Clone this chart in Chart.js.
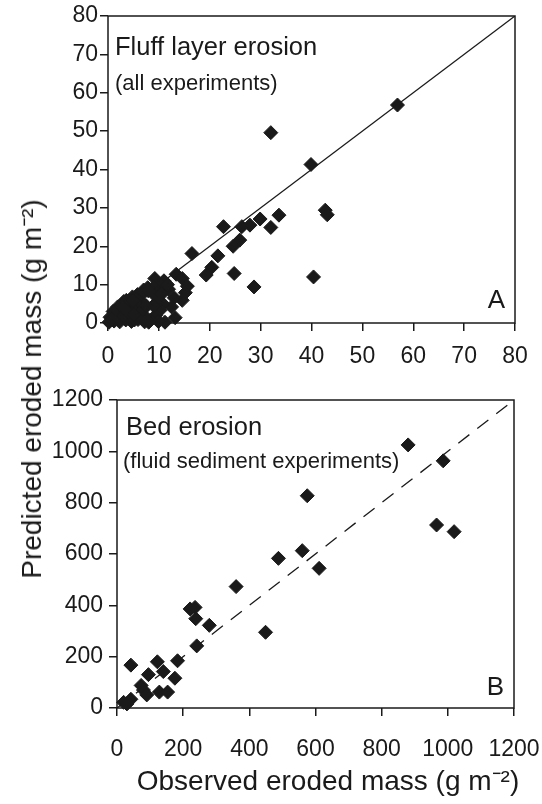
<!DOCTYPE html>
<html>
<head>
<meta charset="utf-8">
<script src="https://cdn.jsdelivr.net/npm/chart.js@4.4.1/dist/chart.umd.min.js"></script>
<style>
  body { margin: 0; background: #fff; width: 542px; height: 804px; position: relative; overflow: hidden; }
  #fluffChart { position: absolute; left: 0; top: 0; }
  #bedChart { position: absolute; left: 0; top: 380px; }
  .axis-title {
    position: absolute; white-space: nowrap; color: #1a1a1a;
    font: 28px "Liberation Sans", Arial, sans-serif;
  }
  #yTitle { left: 30px; top: 389px; transform: translate(-50%, -50%) rotate(-90deg); }
  #xTitle { left: 328px; top: 779px; transform: translate(-50%, -50%); }
</style>
</head>
<body>
<canvas id="fluffChart" width="542" height="375"></canvas>
<canvas id="bedChart" width="542" height="424"></canvas>
<div id="yTitle" class="axis-title">Predicted eroded mass (g m⁻²)</div>
<div id="xTitle" class="axis-title">Observed eroded mass (g m⁻²)</div>
<script>
// Fluff layer erosion, all experiments (g m-2)
var fluffObserved = [
  56.9, 32.0, 39.9, 42.7, 43.1, 33.6, 29.9, 32.0, 27.9, 26.3, 22.7, 25.9, 24.6, 21.6, 16.5, 20.4, 19.3, 24.8, 28.7, 40.4,
  13.4, 14.6, 15.6, 15.2, 14.6, 13.0, 12.5, 13.2, 11.2, 9.2, 11.0, 11.9, 10.4, 9.0, 9.6, 10.8, 9.5, 10.3, 9.4, 9.9,
  9.0, 8.9, 8.4, 7.8, 7.0, 7.3, 7.2, 6.8, 6.6, 6.4, 6.1, 5.9, 5.8, 5.6, 5.4, 5.0, 4.8, 4.6, 4.8, 4.3,
  4.1, 3.8, 3.6, 3.5, 3.6, 3.1, 2.8, 2.6, 2.4, 2.3, 1.9, 1.5, 1.4, 1.2, 1.0, 0.4, 0.2,
  0.8, 2.0, 3.0, 4.2, 5.2, 6.7, 8.0, 5.1, 6.9, 7.5, 3.0, 4.9, 7.9, 10.5, 11.7
];
var fluffPredicted = [
  56.8, 49.6, 41.3, 29.4, 28.2, 28.1, 27.1, 24.9, 25.5, 25.1, 25.1, 21.6, 20.0, 17.5, 18.1, 14.5, 12.5, 12.9, 9.4, 12.0,
  12.7, 11.6, 9.6, 7.9, 5.9, 6.6, 4.2, 1.4, 0.2, 11.6, 11.0, 8.8, 9.8, 9.4, 7.8, 5.0, 5.3, 3.4, 2.0, 0.4,
  4.4, 7.6, 0.8, 9.2, 8.6, 1.7, 0.3, 7.6, 5.5, 4.0, 2.4, 0.9, 7.4, 6.3, 4.9, 3.3, 1.8, 0.4, 6.8, 6.0,
  5.4, 3.9, 2.4, 0.8, 5.9, 5.6, 4.6, 3.1, 1.6, 0.3, 4.2, 2.9, 2.2, 0.5, 3.0, 1.5, 0.2,
  0.9, 1.1, 1.8, 2.7, 0.8, 1.2, 0.2, 2.3, 3.5, 4.5, 4.0, 5.8, 8.4, 7.5, 10.0
];
var fluffTicks = [0, 10, 20, 30, 40, 50, 60, 70, 80];

// Bed erosion, fluid sediment experiments (g m-2)
var bedObserved = [880, 986, 575, 966, 1019, 560, 488, 611, 360, 449, 221, 236, 238, 279, 241, 42, 122, 183, 95, 140, 175, 73, 80, 90, 128, 153, 20, 42, 30];
var bedPredicted = [1025, 963, 827, 713, 687, 613, 583, 544, 473, 295, 386, 392, 348, 322, 242, 167, 180, 184, 130, 142, 116, 88, 70, 51, 62, 62, 22, 34, 16];
var bedTicks = [0, 200, 400, 600, 800, 1000, 1200];

var ink = "#1a1a1a";
var family = '"Liberation Sans", Arial, Helvetica, sans-serif';

// box around the plot area, under the markers
var frame = {
  id: "frame",
  beforeDatasetsDraw: function (chart) {
    var a = chart.chartArea, c = chart.ctx;
    c.save();
    c.strokeStyle = ink;
    c.lineWidth = 1.5;
    c.strokeRect(a.left, a.top, a.right - a.left, a.bottom - a.top);
    c.restore();
  }
};

// panel captions and the corner letter
function captions(title, sub, letter, pos) {
  return {
    id: "captions",
    afterDraw: function (chart) {
      var a = chart.chartArea, c = chart.ctx;
      c.save();
      c.fillStyle = ink;
      c.textBaseline = "alphabetic";
      c.textAlign = "left";
      c.font = "25.5px " + family;
      c.fillText(title, a.left + pos.tx, a.top + pos.ty);
      c.font = "22px " + family;
      c.fillText(sub, a.left + pos.sx, a.top + pos.sy);
      c.textAlign = "right";
      c.font = "26px " + family;
      c.fillText(letter, a.right - 10, a.bottom - pos.ly);
      c.restore();
    }
  };
}

function axis(ticks, fit, isX, pad) {
  var s = {
    type: "linear",
    min: ticks[0],
    max: ticks[ticks.length - 1],
    afterBuildTicks: function (scale) {
      scale.ticks = ticks.map(function (v) { return { value: v }; });
    },
    grid: { drawOnChartArea: false, color: ink, lineWidth: 1.5, tickLength: 8 },
    border: { display: false },
    ticks: {
      color: ink,
      font: { family: family, size: 23 },
      padding: pad,
      maxRotation: 0,
      autoSkip: false,
      callback: function (v) { return String(v); }
    }
  };
  // fixed axis size; end labels may hang past the plot box
  s.afterFit = function (scale) {
    if (isX) scale.height = fit; else scale.width = fit;
    scale.paddingLeft = scale.paddingRight = 0;
    scale.paddingTop = scale.paddingBottom = 0;
  };
  return s;
}

function points(xs, ys) {
  return xs.map(function (x, i) { return { x: x, y: ys[i] }; });
}

// Fluff layer erosion chart
var fluffCtx = document.getElementById("fluffChart").getContext("2d");
var fluffChart = new Chart(fluffCtx, {
  type: "scatter",
  data: {
    datasets: [
      {
        type: "line",
        data: [{ x: fluffTicks[0], y: fluffTicks[0] }, { x: fluffTicks[8], y: fluffTicks[8] }],
        borderColor: ink,
        borderWidth: 1.3,
        pointRadius: 0,
        order: 2
      },
      {
        data: points(fluffObserved, fluffPredicted),
        pointStyle: "rectRot",
        pointRadius: 7,
        backgroundColor: ink,
        borderColor: ink,
        borderWidth: 1,
        clip: false,
        order: 1
      }
    ]
  },
  options: {
    responsive: false,
    animation: false,
    layout: { padding: { top: 16, right: 27, left: 0, bottom: 0 } },
    plugins: { legend: { display: false }, tooltip: { enabled: false } },
    scales: {
      x: axis(fluffTicks, 52, true, 12),
      y: axis(fluffTicks, 108, false, 2)
    }
  },
  plugins: [frame, captions("Fluff layer erosion", "(all experiments)", "A", { tx: 7, ty: 39, sx: 7, sy: 74, ly: 15 })]
});

// Bed erosion chart
var bedCtx = document.getElementById("bedChart").getContext("2d");
var bedChart = new Chart(bedCtx, {
  type: "scatter",
  data: {
    datasets: [
      {
        type: "line",
        data: [{ x: bedTicks[0], y: bedTicks[0] }, { x: bedTicks[6], y: bedTicks[6] }],
        borderColor: ink,
        borderWidth: 1.3,
        borderDash: [14, 10],
        pointRadius: 0,
        order: 2
      },
      {
        data: points(bedObserved, bedPredicted),
        pointStyle: "rectRot",
        pointRadius: 7,
        backgroundColor: ink,
        borderColor: ink,
        borderWidth: 1,
        clip: false,
        order: 1
      }
    ]
  },
  options: {
    responsive: false,
    animation: false,
    layout: { padding: { top: 20, right: 28, left: 0, bottom: 0 } },
    plugins: { legend: { display: false }, tooltip: { enabled: false } },
    scales: {
      x: axis(bedTicks, 96, true, 20),
      y: axis(bedTicks, 117, false, 6)
    }
  },
  plugins: [frame, captions("Bed erosion", "(fluid sediment experiments)", "B", { tx: 9, ty: 35, sx: 6, sy: 68, ly: 13 })]
});
</script>
</body>
</html>
